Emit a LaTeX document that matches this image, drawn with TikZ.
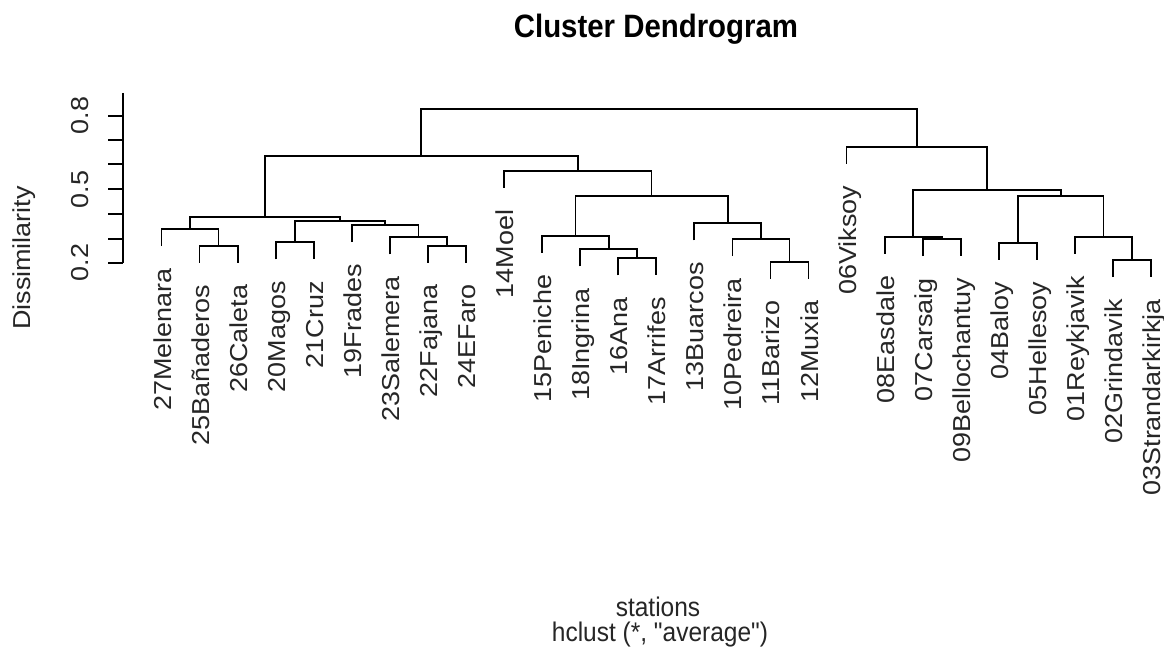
\documentclass[tikz,border=0pt]{standalone}
\usepackage{fontspec}
\setmainfont{Liberation Sans}[Ligatures=TeXOff]
\usepackage{graphicx}
\newcommand\stretchtxt[1]{\scalebox{1.1}[1]{#1}}
\newcommand\stretchup[1]{\scalebox{1}[1.1]{#1}}
\begin{document}
\begin{tikzpicture}[x=1pt,y=-1pt,
  branch/.style={line width=1.8pt, line join=miter},
  axisline/.style={line width=1.8pt},
  lab/.style={rotate=90, anchor=base east, inner sep=0pt, text=black!85,
    font=\fontsize{24.5}{28}\selectfont},
  ticklab/.style={rotate=90, anchor=base, inner sep=0pt, text=black!85,
    font=\fontsize{24.5}{28}\selectfont},
  plaintxt/.style={anchor=base, inner sep=0pt, text=black!85,
    font=\fontsize{24.5}{28}\selectfont},
  titletxt/.style={anchor=base, inner sep=0pt,
    font=\fontsize{29.4}{34}\selectfont\bfseries}]
\useasboundingbox[fill=white] (0,0) rectangle (1164,666);

% title and axis titles
\node[titletxt] (title) at (656,38) {\stretchup{Cluster Dendrogram}};
\node[plaintxt] (xlab1) at (658,616.7) {\stretchup{stations}};
\node[plaintxt] (xlab2) at (660,641.7) {\stretchup{hclust (*, "average")}};
\node[ticklab] (ylab) at (30,258) {\stretchtxt{Dissimilarity}};

% y axis
\coordinate (axtop) at (122.7,93);
\coordinate (axbot) at (122.7,262.7);
\draw[axisline] (axtop) -- (axbot);
\foreach \k/\y in {2/262.7,3/239,4/214.3,5/189.3,6/164.3,7/140,8/115.7}{
  \coordinate (tk\k) at (122.7,\y);
  \draw[axisline] (tk\k) -- ++(-15.2,0);
}
\node[ticklab] (t08) at (88,115.7) {\stretchtxt{0.8}};
\node[ticklab] (t05) at (88,189.3) {\stretchtxt{0.5}};
\node[ticklab] (t02) at (88,262.7) {\stretchtxt{0.2}};

% leaves
\foreach \i/\x/\b/\t in {
  1/161.5/246/27Melenara,
  2/199.56/262.7/25Bañaderos,
  3/237.62/262.7/26Caleta,
  4/275.68/259.3/20Magos,
  5/313.74/259.3/21Cruz,
  6/351.8/242/19Frades,
  7/389.86/254.3/23Salemera,
  8/427.92/262.7/22Fajana,
  9/465.98/262.7/24EFaro,
  10/504.04/187.7/14Moel,
  11/542.1/252.7/15Peniche,
  12/580.16/266.3/18Ingrina,
  13/618.22/275.3/16Ana,
  14/656.28/275.3/17Arrifes,
  15/694.34/240.3/13Buarcos,
  16/732.4/256/10Pedreira,
  17/770.46/278.7/11Barizo,
  18/808.52/278.7/12Muxia,
  19/846.58/163.7/06Viksoy,
  20/884.64/253.7/08Easdale,
  21/922.7/256/07Carsaig,
  22/960.76/256/09Bellochantuy,
  23/998.82/259.7/04Baloy,
  24/1036.88/259.7/05Hellesoy,
  25/1074.94/253.7/01Reykjavik,
  26/1113.0/277/02Grindavik,
  27/1151.06/277/03Strandarkirkja}{
  \coordinate (L\i) at (\x,\b);
  \node[lab] (T\i) at (\x+9.5,\b+22) {\stretchtxt{\t}};
}

% merge points
\coordinate (m1) at (218.59,245.7);
\coordinate (m2) at (190.05,229);
\coordinate (m3) at (446.95,245.7);
\coordinate (m4) at (418.41,237.3);
\coordinate (m5) at (385.10,225);
\coordinate (m6) at (294.71,242.3);
\coordinate (m7) at (339.91,220.7);
\coordinate (m8) at (264.98,216.7);
\coordinate (m9) at (637.25,258.3);
\coordinate (m10) at (608.71,249.3);
\coordinate (m11) at (575.40,235.7);
\coordinate (m12) at (789.49,261.7);
\coordinate (m13) at (760.95,239);
\coordinate (m14) at (727.64,223.3);
\coordinate (m15) at (651.52,195.7);
\coordinate (m16) at (577.78,170.7);
\coordinate (m17) at (421.38,156);
\coordinate (m18) at (941.73,239);
\coordinate (m19) at (913.19,236.7);
\coordinate (m20) at (1017.85,242.7);
\coordinate (m21) at (1132.03,260);
\coordinate (m22) at (1103.49,236.7);
\coordinate (m23) at (1060.67,195.7);
\coordinate (m24) at (986.93,190);
\coordinate (m25) at (916.76,146.7);
\coordinate (root) at (669.07,109);

% branches
\draw[branch] (L2) |- (m1) -| (L3);
\draw[branch] (L1) |- (m2) -| (m1);
\draw[branch] (L8) |- (m3) -| (L9);
\draw[branch] (L7) |- (m4) -| (m3);
\draw[branch] (L6) |- (m5) -| (m4);
\draw[branch] (L4) |- (m6) -| (L5);
\draw[branch] (m6) |- (m7) -| (m5);
\draw[branch] (m2) |- (m8) -| (m7);
\draw[branch] (L13) |- (m9) -| (L14);
\draw[branch] (L12) |- (m10) -| (m9);
\draw[branch] (L11) |- (m11) -| (m10);
\draw[branch] (L17) |- (m12) -| (L18);
\draw[branch] (L16) |- (m13) -| (m12);
\draw[branch] (L15) |- (m14) -| (m13);
\draw[branch] (m11) |- (m15) -| (m14);
\draw[branch] (L10) |- (m16) -| (m15);
\draw[branch] (m8) |- (m17) -| (m16);
\draw[branch] (L21) |- (m18) -| (L22);
\draw[branch] (L20) |- (m19) -| (m18);
\draw[branch] (L23) |- (m20) -| (L24);
\draw[branch] (L26) |- (m21) -| (L27);
\draw[branch] (L25) |- (m22) -| (m21);
\draw[branch] (m20) |- (m23) -| (m22);
\draw[branch] (m19) |- (m24) -| (m23);
\draw[branch] (L19) |- (m25) -| (m24);
\draw[branch] (m17) |- (root) -| (m25);
\end{tikzpicture}
\end{document}
